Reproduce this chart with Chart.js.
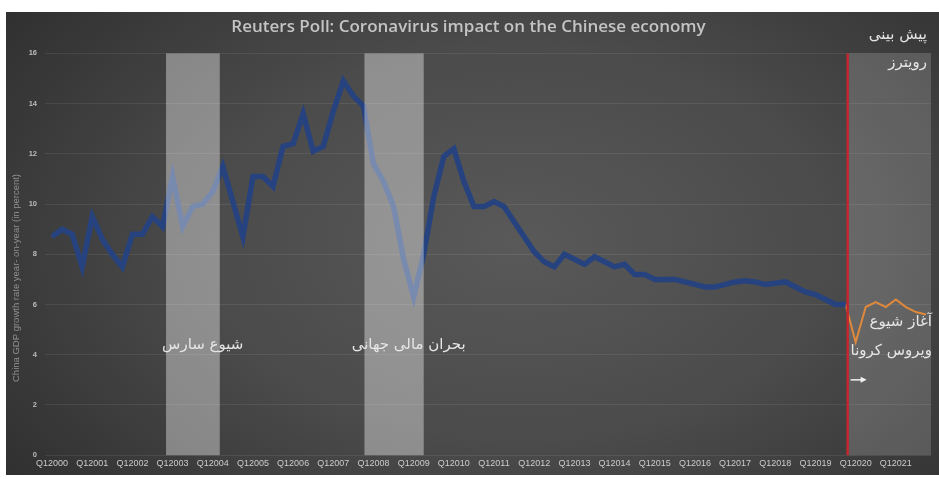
<!DOCTYPE html>
<html>
<head>
<meta charset="utf-8">
<script src="https://cdn.jsdelivr.net/npm/chart.js@4.4.0/dist/chart.umd.min.js"></script>
<style>
html, body { margin: 0; padding: 0; background: #fff; }
#wrap {
    position: absolute; left: 6px; top: 12px; width: 933px; height: 463px;
    background: radial-gradient(ellipse 75% 95% at 55% 50%, #595959 0%, #4b4b4b 45%, #363636 80%, #2b2b2b 100%);
}
</style>
</head>
<body>
<div id="wrap"><canvas id="gdpChart" width="933" height="463"></canvas></div>
<script>
// Q1 tick labels, one per year
const tickLabels = ['Q12000', 'Q12001', 'Q12002', 'Q12003', 'Q12004', 'Q12005', 'Q12006', 'Q12007',
    'Q12008', 'Q12009', 'Q12010', 'Q12011', 'Q12012', 'Q12013', 'Q12014', 'Q12015', 'Q12016',
    'Q12017', 'Q12018', 'Q12019', 'Q12020', 'Q12021'];

// quarterly GDP growth, Q1 2000 .. Q4 2019
const gdpActual = [
    8.7, 9.0, 8.8, 7.5, 9.5, 8.6, 8.0, 7.5,
    8.8, 8.8, 9.5, 9.1, 11.1, 9.1, 9.9, 10.0,
    10.5, 11.5, 10.1, 8.7, 11.1, 11.1, 10.7, 12.3,
    12.4, 13.6, 12.1, 12.3, 13.7, 14.9, 14.3, 13.9,
    11.6, 10.9, 9.9, 7.8, 6.3, 8.0, 10.3, 11.9,
    12.2, 10.9, 9.9, 9.9, 10.1, 9.9, 9.3, 8.7,
    8.1, 7.7, 7.5, 8.0, 7.8, 7.6, 7.9, 7.7,
    7.5, 7.6, 7.2, 7.2, 7.0, 7.0, 7.0, 6.9,
    6.8, 6.7, 6.7, 6.8, 6.9, 6.95, 6.9, 6.8,
    6.85, 6.9, 6.7, 6.5, 6.4, 6.2, 6.0, 6.0
];

// Reuters forecast, Q4 2019 .. Q4 2021
const gdpForecast = [6.0, 4.5, 5.9, 6.1, 5.9, 6.2, 5.9, 5.7, 5.6];
const forecastFrom = 79;

// shaded crisis periods (quarter index)
const sarsBand = [11.35, 16.7];
const crisisBand = [31.1, 37.0];
const outbreakAt = 79.2;

const actualPoints = gdpActual.map((v, i) => ({ x: i, y: v }));
const forecastPoints = gdpForecast.map((v, i) => ({ x: forecastFrom + i, y: v }));

const faText = (ctx, text, x, y, align) => {
    ctx.save();
    ctx.direction = 'rtl';
    ctx.font = '15px "DejaVu Sans"';
    ctx.fillStyle = '#e6e6e6';
    ctx.textAlign = align;
    ctx.textBaseline = 'middle';
    ctx.fillText(text, x, y);
    ctx.restore();
};

const overlays = {
    id: 'overlays',
    beforeDatasetsDraw(chart) {
        const { ctx, chartArea, scales: { x, y } } = chart;
        const top = y.getPixelForValue(16), bottom = y.getPixelForValue(0);
        const fx = x.getPixelForValue(outbreakAt);
        ctx.save();
        ctx.fillStyle = 'rgba(255,255,255,0.17)';
        ctx.fillRect(fx, top, chartArea.right - fx, bottom - top);

        // vertical axis title
        ctx.translate(10, 266);
        ctx.rotate(-Math.PI / 2);
        ctx.font = '9.5px "Liberation Sans"';
        ctx.fillStyle = '#8f8f8f';
        ctx.textAlign = 'center';
        ctx.textBaseline = 'middle';
        ctx.fillText('China GDP growth rate year- on-year (in percent)', 0, 0);
        ctx.restore();
    },
    afterDatasetsDraw(chart) {
        const { ctx, scales: { x, y } } = chart;
        const top = y.getPixelForValue(16), bottom = y.getPixelForValue(0);
        ctx.save();
        ctx.fillStyle = 'rgba(255,255,255,0.38)';
        [sarsBand, crisisBand].forEach(b => {
            const x0 = x.getPixelForValue(b[0]), x1 = x.getPixelForValue(b[1]);
            ctx.fillRect(x0, top, x1 - x0, bottom - top);
        });

        // outbreak line
        const fx = x.getPixelForValue(outbreakAt);
        ctx.strokeStyle = '#c3262c';
        ctx.lineWidth = 2.5;
        ctx.beginPath();
        ctx.moveTo(fx, top);
        ctx.lineTo(fx, bottom);
        ctx.stroke();

        // small arrow
        const ay = y.getPixelForValue(3);
        ctx.strokeStyle = '#f2f2f2';
        ctx.fillStyle = '#f2f2f2';
        ctx.lineWidth = 1.5;
        ctx.beginPath();
        ctx.moveTo(fx + 3, ay);
        ctx.lineTo(fx + 15, ay);
        ctx.stroke();
        ctx.beginPath();
        ctx.moveTo(fx + 19, ay);
        ctx.lineTo(fx + 13, ay - 3);
        ctx.lineTo(fx + 13, ay + 3);
        ctx.closePath();
        ctx.fill();
        ctx.restore();

        faText(ctx, 'شیوع سارس', x.getPixelForValue(15.0), y.getPixelForValue(4.4), 'center');
        faText(ctx, 'بحران مالی جهانی', x.getPixelForValue(35.5), y.getPixelForValue(4.4), 'center');
        faText(ctx, 'پیش بینی', chart.width - 12, 23, 'right');
        faText(ctx, 'رویترز', chart.width - 12, 51, 'right');
        faText(ctx, 'آغاز شیوع', chart.width - 7, y.getPixelForValue(5.28), 'right');
        faText(ctx, 'ویروس کرونا', chart.width - 7, y.getPixelForValue(4.16), 'right');
    }
};

new Chart(document.getElementById('gdpChart'), {
    type: 'line',
    data: {
        datasets: [
            {
                data: actualPoints,
                borderColor: '#27437f',
                borderWidth: 5.5,
                pointRadius: 0,
                tension: 0
            },
            {
                data: actualPoints,
                borderColor: '#4f74c6',
                borderWidth: 2.2,
                pointRadius: 0,
                tension: 0
            },
            {
                data: forecastPoints,
                borderColor: '#e0893a',
                borderWidth: 2,
                pointRadius: 0,
                tension: 0
            }
        ]
    },
    options: {
        responsive: false,
        animation: false,
        layout: { padding: { left: 0, right: 8, bottom: 3, top: 0 } },
        plugins: {
            legend: { display: false },
            tooltip: { enabled: false },
            title: {
                display: true,
                text: 'Reuters Poll: Coronavirus impact on the Chinese economy',
                color: '#c4c4c4',
                font: { family: 'Open Sans', size: 17, weight: '600' },
                padding: { top: 5, bottom: 16 }
            }
        },
        scales: {
            x: {
                type: 'linear',
                min: -0.7,
                max: 87.5,
                grid: { display: false, drawTicks: false },
                border: { display: false },
                afterBuildTicks: scale => {
                    scale.ticks = tickLabels.map((_, i) => ({ value: i * 4 }));
                },
                ticks: {
                    color: '#cccccc',
                    font: { family: 'Liberation Sans', size: 9 },
                    padding: 3,
                    maxRotation: 0,
                    autoSkip: false,
                    callback: v => tickLabels[v / 4]
                }
            },
            y: {
                min: 0,
                max: 16,
                afterFit: scale => { scale.width = 39; },
                grid: { color: 'rgba(255,255,255,0.08)', drawTicks: false },
                border: { display: false },
                ticks: {
                    stepSize: 2,
                    color: '#bdbdbd',
                    font: { family: 'Liberation Sans', size: 7.5, weight: 'bold' },
                    padding: 8
                }
            }
        }
    },
    plugins: [overlays]
});
</script>
</body>
</html>
